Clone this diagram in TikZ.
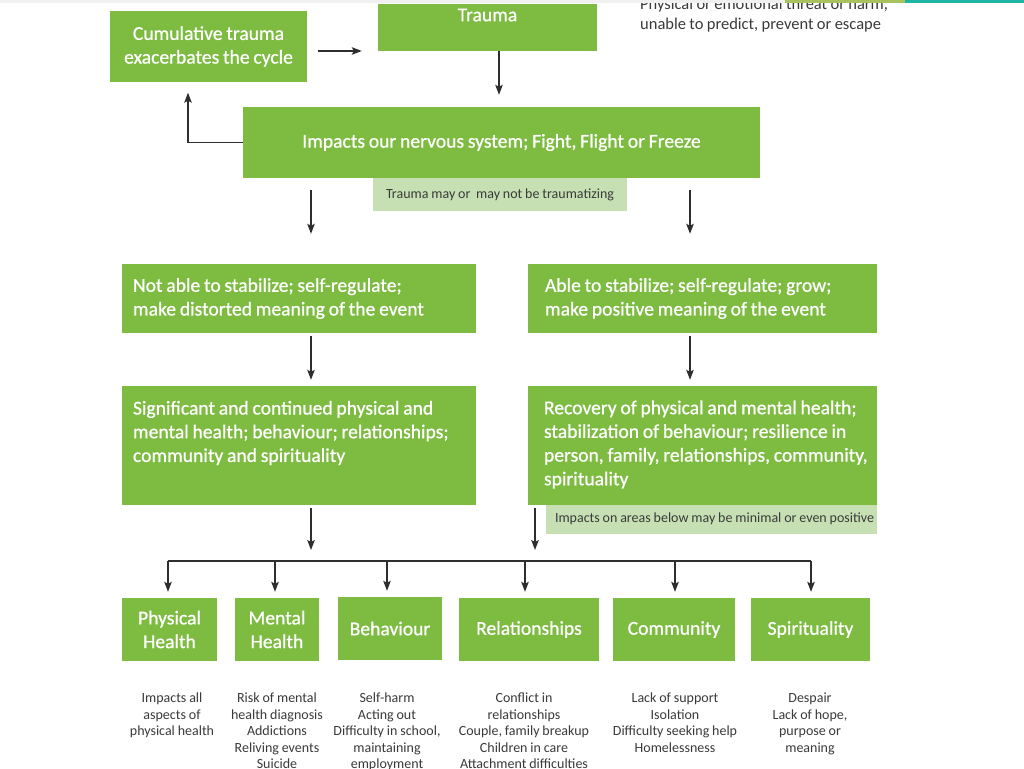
\documentclass[tikz,border=0pt]{standalone}
\usepackage{fontspec}
\setmainfont{Carlito}[WordSpace=0.9]
\newfontfamily\wfont{Carlito}[FakeBold=0.8,WordSpace=0.85]
\usetikzlibrary{arrows.meta,calc}
\definecolor{gr}{HTML}{7DBB41}
\definecolor{lg}{HTML}{C6E0B4}
\definecolor{dk}{HTML}{2E2E2E}
\definecolor{tx}{HTML}{3A3A3A}
\definecolor{olv}{HTML}{A9C25D}
\definecolor{teal}{HTML}{1FB5A5}
\begin{document}
\begin{tikzpicture}[x=1pt,y=-1pt,
  box/.style={fill=gr, draw=none, inner sep=0pt, text=white, font=\wfont\fontsize{19.6}{23.7}\selectfont},
  wt/.style={text=white, inner sep=0pt, font=\wfont\fontsize{19.6}{23.7}\selectfont},
  note/.style={fill=lg, draw=none, inner sep=0pt, text=tx, font=\fontsize{14}{17}\selectfont},
  nt/.style={text=tx, inner sep=0pt, font=\fontsize{14}{17}\selectfont},
  desc/.style={text=tx, inner sep=0pt, align=center, anchor=north, font=\fontsize{14}{16.5}\selectfont},
  arr/.style={draw=dk, line width=1.3pt, -{Stealth[length=10pt,width=7.5pt,inset=2pt]}},
  ln/.style={draw=dk, line width=1.3pt}]
\useasboundingbox (0,0) rectangle (1024,768);
\fill[white] (0,0) rectangle (1024,768);

% top-right text
\node[anchor=north west, inner sep=0pt, align=left, text=tx, font=\fontsize{16.5}{20}\selectfont] (thr) at (640,-2)
  {Physical or emotional threat or harm,\\unable to predict, prevent or escape};

% top band
\fill[gray!12] (0,0) rectangle (1024,3);
\fill[olv] (785,0) rectangle (905,3);
\fill[teal] (905,0) rectangle (1024,3);

% boxes
\node[box, minimum width=197pt, minimum height=70pt, align=center] (cum) at (208.5,46.5)
  {Cumulative trauma\\exacerbates the cycle};
\node[box, minimum width=219pt, minimum height=47pt] (trauma) at (487.5,27.5) {};
\node[wt] (traumaT) at (trauma.center |- 0,15) {Trauma};
\node[box, minimum width=517pt, minimum height=71pt] (imp) at (501.5,142.5)
  {Impacts our nervous system; Fight, Flight or Freeze};
\node[note, minimum width=254pt, minimum height=33pt] (n1) at (500,194.5)
  {Trauma may or\ \ may not be traumatizing};

\node[box, minimum width=354pt, minimum height=69pt] (l2) at (299,298.5) {};
\node[wt, anchor=west, align=flush left] (l2T) at ($(l2.west)+(11,0)$)
  {Not able to stabilize; self-regulate;\\make distorted meaning of the event};
\node[box, minimum width=349pt, minimum height=69pt] (r2) at (702.5,298.5) {};
\node[wt, anchor=west, align=flush left] (r2T) at ($(r2.west)+(17,0)$)
  {Able to stabilize; self-regulate; grow;\\make positive meaning of the event};

\node[box, minimum width=354pt, minimum height=119pt] (l3) at (299,445.5) {};
\node[wt, anchor=west, align=flush left] (l3T) at ($(l3.west |- 0,433)+(11,0)$)
  {Significant and continued physical and\\mental health; behaviour; relationships;\\community and spirituality};
\node[box, minimum width=349pt, minimum height=119pt] (r3) at (702.5,445.5) {};
\node[wt, anchor=west, align=flush left] (r3T) at ($(r3.west |- 0,444.5)+(16,0)$)
  {Recovery of physical and mental health;\\stabilization of behaviour; resilience in\\person, family, relationships, community,\\spirituality};
\node[note, minimum width=331pt, minimum height=29pt] (n2) at (711.5,519.5) {};
\node[nt, anchor=west] (n2T) at ($(n2.west)+(9,-1)$)
  {Impacts on areas below may be minimal or even positive};

% bottom boxes
\node[box, minimum width=95pt, minimum height=63pt, align=center] (ph) at (169.5,629.5) {Physical\\Health};
\node[box, minimum width=84pt, minimum height=63pt, align=center] (mh) at (277,629.5) {Mental\\Health};
\node[box, minimum width=104pt, minimum height=63pt] (bh) at (390,628.5) {Behaviour};
\node[box, minimum width=140pt, minimum height=63pt] (rel) at (529,629.5) {Relationships};
\node[box, minimum width=122pt, minimum height=63pt] (com) at (674,629.5) {Community};
\node[box, minimum width=119pt, minimum height=63pt] (sp) at (810.5,629.5) {Spirituality};

% descriptions
\node[desc] (dph) at (172,693) {Impacts all\\aspects of\\physical health};
\node[desc] (dmh) at (277,693) {Risk of mental\\health diagnosis\\Addictions\\Reliving events\\Suicide};
\node[desc] (dbh) at (387,693) {Self-harm\\Acting out\\Difficulty in school,\\maintaining\\employment};
\node[desc] (drel) at (524,693) {Conflict in\\relationships\\Couple, family breakup\\Children in care\\Attachment difficulties};
\node[desc] (dcom) at (675,693) {Lack of support\\Isolation\\Difficulty seeking help\\Homelessness};
\node[desc] (dsp) at (810,693) {Despair\\Lack of hope,\\purpose or\\meaning};

% connectors
\draw[arr, shorten <=11pt, shorten >=16pt] ([yshift=-4.5pt]cum.east) -- ([yshift=-4.5pt]cum.east -| trauma.west);
\draw[arr, shorten >=12pt] ([xshift=-2.5pt]imp.north |- trauma.south) -- ([xshift=-2.5pt]imp.north);
\draw[arr, shorten >=11pt] (imp.west) -| ([xshift=-20.5pt]cum.south);
\draw[arr, shorten <=12pt, shorten >=30pt] ([xshift=12pt]l2.north |- imp.south) -- ([xshift=12pt]l2.north);
\draw[arr, shorten <=12pt, shorten >=30pt] ([xshift=-12.5pt]r2.north |- imp.south) -- ([xshift=-12.5pt]r2.north);
\draw[arr, shorten <=3pt, shorten >=6pt] ([xshift=12pt]l2.south) -- ([xshift=12pt]l3.north);
\draw[arr, shorten <=3pt, shorten >=6pt] ([xshift=-12.5pt]r2.south) -- ([xshift=-12.5pt]r3.north);

\coordinate (trunk) at (0,561);
\draw[arr, shorten <=3pt, shorten >=11pt] ([xshift=12pt]l3.south) -- ([xshift=12pt]l3.south |- trunk);
\draw[arr, shorten <=3pt, shorten >=11pt] ([xshift=-167.5pt]r3.south) -- ([xshift=-167.5pt]r3.south |- trunk);
\draw[ln] ([xshift=-1.5pt]ph.north |- trunk) -- (sp.north |- trunk);
\foreach \b/\dx in {ph/-1.5,mh/-2,bh/-3,rel/-4,com/1,sp/0.5}
  \draw[arr, shorten >=6pt] ([xshift=\dx pt]\b.north |- trunk) -- ([xshift=\dx pt]\b.north);
\end{tikzpicture}
\end{document}
